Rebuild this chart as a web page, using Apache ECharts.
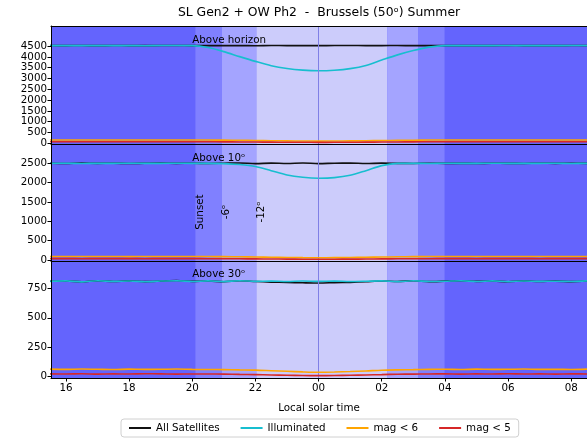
<!DOCTYPE html>
<html><head><meta charset="utf-8">
<script src="https://cdn.jsdelivr.net/npm/echarts@6/dist/echarts.min.js"></script>
<style>html,body{margin:0;padding:0;background:#fff}#c{width:587px;height:440px}</style>
</head><body><div id="c"></div>
<script>
// ---------------- data ----------------
const hours = [15.5,16,16.5,17,17.5,18,18.5,19,19.5,20,20.5,21,21.5,22,22.5,23,23.5,24,24.5,25,25.5,26,26.5,27,27.5,28,28.5,29,29.5,30,30.5,31,31.5,32,32.5];
const seriesNames = ['All Satellites','Illuminated','mag < 6','mag < 5'];
const panelLabels = ['Above horizon','Above 10\u1D52','Above 30\u1D52'];
const panelLabelX = 20.0;
const panelLabelY = [4530, 2500, 830];
// twilight times: sunset, -6, -12, -12, -6, sunrise (local solar hours)
const twilightTimes = [20.1, 20.94, 22.03, 26.17, 27.15, 27.99];
const twilightLabels = ['Sunset','-6\u1D52','-12\u1D52'];
const twilightLabelY = 1240;
const midnight = 24;
const xTicks = [16,18,20,22,24,26,28,30,32];
const yTicks = [[0,500,1000,1500,2000,2500,3000,3500,4000,4500],[0,500,1000,1500,2000,2500],[0,250,500,750]];
const yMin = [-35,-26,-11];
const yMax = [5427,3000,982];

// Panel 1: above horizon
const h1All = [4521,4519,4523,4518,4522,4520,4517,4521,4524,4519,4522,4518,4521,4516,4523,4519,4522,4517,4521,4524,4518,4520,4523,4517,4521,4519,4522,4518,4520,4523,4519,4521,4518,4522,4520];
const h1Ill = [4519,4521,4517,4522,4519,4520,4516,4521,4522,4517,4430,4240,4010,3790,3590,3460,3385,3355,3380,3455,3600,3850,4090,4290,4450,4518,4521,4517,4520,4522,4518,4521,4519,4522,4520];
const h1Mag6 = [150,152,149,151,153,150,148,151,150,149,147,143,136,127,118,110,104,100,102,108,116,125,134,142,147,150,151,149,152,150,148,151,150,152,149];
const h1Mag5 = [70,71,69,72,70,68,71,70,69,70,68,65,61,56,51,47,44,42,43,46,50,55,60,65,68,70,71,69,70,72,70,69,71,70,70];
// Panel 2: above 10 deg
const h2All = [2501,2496,2505,2499,2503,2495,2501,2506,2498,2503,2497,2502,2508,2493,2506,2497,2509,2492,2503,2507,2494,2505,2500,2497,2504,2498,2502,2495,2503,2500,2497,2504,2499,2502,2500];
const h2Ill = [2500,2502,2497,2501,2499,2503,2498,2500,2502,2499,2499,2493,2470,2420,2310,2200,2140,2115,2130,2190,2310,2440,2498,2501,2497,2502,2499,2500,2503,2498,2501,2499,2502,2497,2500];
const h2Mag6 = [90,91,89,92,90,88,91,90,89,90,89,87,83,77,71,66,61,58,60,64,70,76,82,87,89,90,91,89,90,92,90,89,91,90,90];
const h2Mag5 = [35,36,34,35,37,35,34,36,35,35,34,33,31,28,25,23,21,20,21,22,25,28,31,33,34,35,36,34,35,36,35,34,36,35,35];
// Panel 3: above 30 deg
const h3All = [810,812,806,815,808,813,807,811,816,809,812,806,814,808,803,800,797,795,798,801,806,812,808,814,807,811,815,809,812,806,813,808,811,807,812];
const h3Ill = [809,813,805,814,809,812,806,812,815,808,813,807,815,809,811,808,812,809,811,808,810,813,807,814,808,810,814,808,813,807,812,809,810,808,813];
const h3Mag6 = [64,62,65,63,61,64,62,63,65,62,61,60,58,56,51,46,41,38,40,44,49,55,58,60,62,63,61,64,62,63,65,62,63,61,64];
const h3Mag5 = [24,23,25,22,24,23,25,24,22,23,23,22,20,18,15,12,10,9,10,12,15,18,21,22,23,24,22,24,23,25,23,24,22,24,23];

const panels = [[h1All,h1Ill,h1Mag6,h1Mag5],[h2All,h2Ill,h2Mag6,h2Mag5],[h3All,h3Ill,h3Mag6,h3Mag5]];

// ---------------- styling ----------------
const FONT = 'DejaVu Sans';
const FS = 10.3;
const lineColors = ['#111111','#17becf','#ffa500','#d62728'];
const bandColors = ['#8080ff','#a4a4ff','#ccccfb','#a4a4ff','#8080ff'];
const darkBand = '#6464fd';
const xMin = 15.527, xMax = 32.5;
const gridDefs = [{top:26,height:118},{top:144,height:117},{top:261,height:117}];

const chart = echarts.init(document.getElementById('c'));

const zip = arr => hours.map((h,i)=>[h,arr[i]]);

const series = [];
panels.forEach((p,pi)=>{
  const areas = [];
  for (let k=0;k<twilightTimes.length-1;k++){
    areas.push([{xAxis:twilightTimes[k], itemStyle:{color:bandColors[k],opacity:1}},{xAxis:twilightTimes[k+1]}]);
  }
  series.push({
    type:'line', xAxisIndex:pi, yAxisIndex:pi, data:[], silent:true, z:1,
    markArea:{silent:true, data:areas, itemStyle:{opacity:1}},
    markLine:{silent:true, symbol:'none', label:{show:false},
      lineStyle:{color:'#7f7fe6',width:1,type:'solid'}, data:[{xAxis:midnight}]}
  });
  p.forEach((arr,si)=>{
    series.push({
      name:seriesNames[si], type:'line', xAxisIndex:pi, yAxisIndex:pi,
      data:zip(arr), showSymbol:false, symbol:'none', smooth:0.3, z:3+si,
      lineStyle:{color:lineColors[si], width:1.6}, itemStyle:{color:lineColors[si]}
    });
  });
});

const xAxes = gridDefs.map((g,i)=>({
  gridIndex:i, type:'value', min:xMin, max:xMax, z:10,
  splitLine:{show:false},
  axisLine:{show:true, onZero:false, lineStyle:{color:'#000',width:1}},
  axisTick:{show:i===2, length:3.5, lineStyle:{color:'#000'}, customValues:xTicks},
  axisLabel:{show:i===2, customValues:xTicks, color:'#000', fontSize:FS, fontFamily:FONT, margin:5,
    formatter:v=>String(v%24).padStart(2,'0')},
  name: i===2 ? 'Local solar time' : '', nameLocation:'middle', nameGap:25,
  nameTextStyle:{color:'#000', fontSize:FS, fontFamily:FONT}
}));
xAxes.push({gridIndex:0, type:'value', position:'top', min:xMin, max:xMax, z:10,
  splitLine:{show:false}, axisTick:{show:false}, axisLabel:{show:false},
  axisLine:{show:true, onZero:false, lineStyle:{color:'#000',width:1}}});

const yAxes = gridDefs.map((g,i)=>({
  gridIndex:i, type:'value', min:yMin[i], max:yMax[i], z:10,
  splitLine:{show:false},
  axisLine:{show:true, onZero:false, lineStyle:{color:'#000',width:1}},
  axisTick:{show:true, length:3.5, lineStyle:{color:'#000'}, customValues:yTicks[i]},
  axisLabel:{customValues:yTicks[i], color:'#000', fontSize:FS, fontFamily:FONT, margin:4,
    formatter:v=>String(v)}
}));

chart.setOption({
  animation:false,
  backgroundColor:'#ffffff',
  grid: gridDefs.map(g=>({left:51, right:-2, top:g.top, height:g.height, show:true,
    backgroundColor:darkBand, borderWidth:0, containLabel:false})),
  xAxis: xAxes,
  yAxis: yAxes,
  legend:{
    data:seriesNames, left:121, top:419, orient:'horizontal',
    icon:'rect', itemWidth:22, itemHeight:2, itemGap:21,
    padding:[4,8], borderColor:'#d0d0d0', borderWidth:1, borderRadius:3,
    backgroundColor:'#fff',
    textStyle:{color:'#000', fontSize:FS, fontFamily:FONT}
  },
  series: series
});

const gfx = [];
gfx.push({type:'text', x:319, y:7, style:{text:'SL Gen2 + OW Ph2  -  Brussels (50\u1D52) Summer',
  align:'center', verticalAlign:'top', fill:'#000', font:'12.4px "DejaVu Sans"'}});
panelLabels.forEach((t,i)=>{
  const p = chart.convertToPixel({gridIndex:i}, [panelLabelX, panelLabelY[i]]);
  gfx.push({type:'text', x:p[0], y:p[1], z:20, style:{text:t, align:'left', verticalAlign:'bottom',
    fill:'#000', font:FS+'px "DejaVu Sans"'}});
});
twilightLabels.forEach((t,i)=>{
  const p = chart.convertToPixel({gridIndex:1}, [twilightTimes[i], twilightLabelY]);
  gfx.push({type:'text', x:p[0]+4.5, y:p[1], rotation:Math.PI/2, z:20, style:{text:t, align:'center',
    verticalAlign:'middle', fill:'#000', font:FS+'px "DejaVu Sans"'}});
});
chart.setOption({graphic:gfx});
</script>
</body></html>
